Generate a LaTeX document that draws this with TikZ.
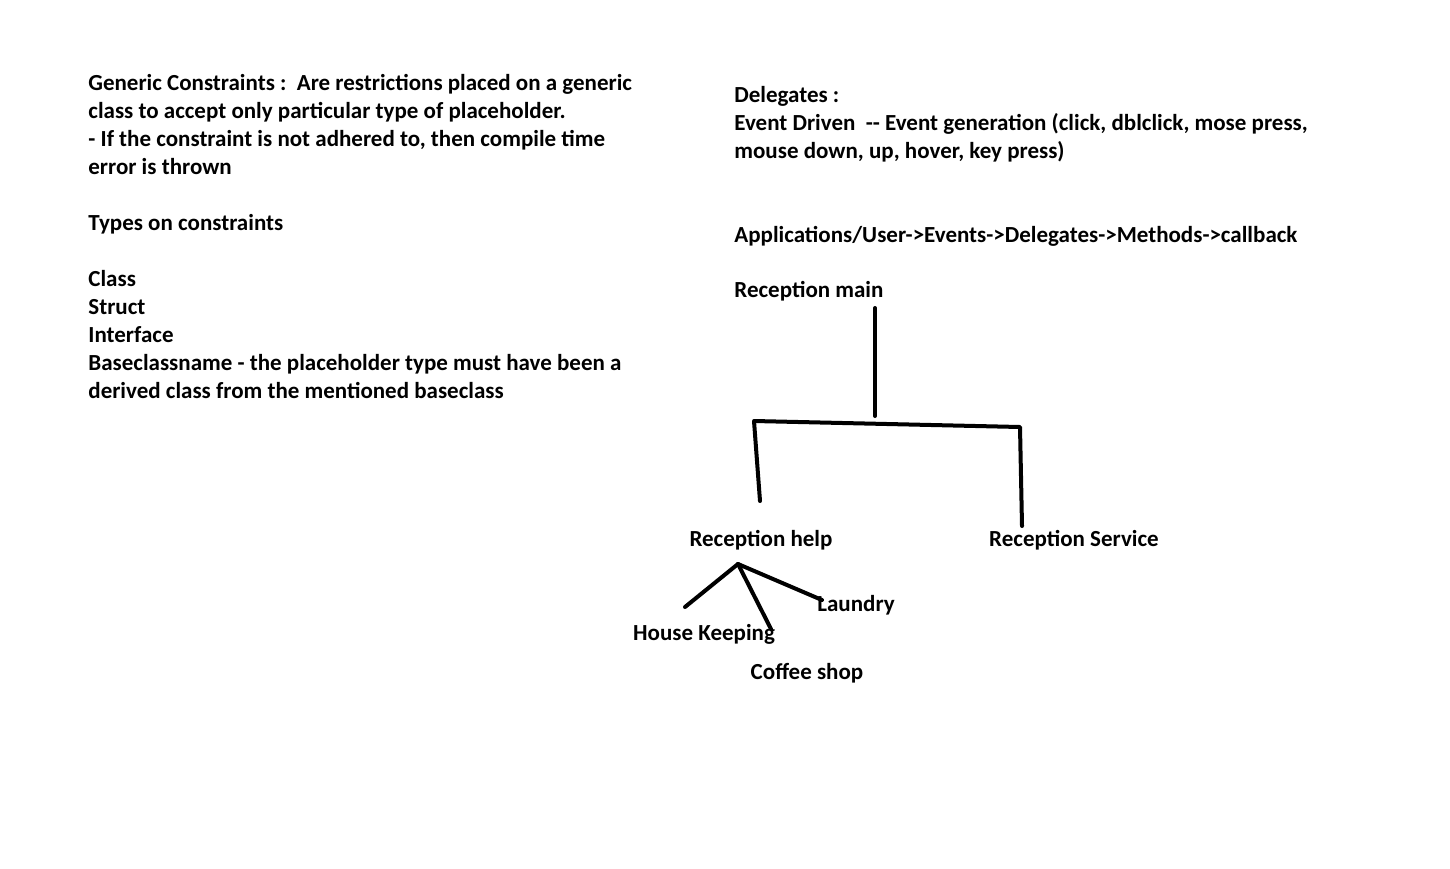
\documentclass[tikz,border=0pt]{standalone}
\usepackage{fontspec}
\setmainfont{Carlito}
\usetikzlibrary{positioning}

\begin{document}
\begin{tikzpicture}[
  x=0.5pt, y=-0.5pt,
  font=\fontsize{11.5}{14}\selectfont\bfseries,
  note/.style={anchor=base west,align=left,inner sep=0pt},
  leaf/.style={inner sep=0pt},
  branch/.style={line width=2pt,line cap=round,line join=round}
]
\useasboundingbox (0,0) rectangle (1450,868);

% --- Notes (left and right columns, placed by their last line) ---
\node[note] (generic) at (88,398) {Generic Constraints :\ \ Are restrictions placed on a generic\\
class to accept only particular type of placeholder.\\
- If the constraint is not adhered to, then compile time\\
error is thrown\\[14pt]
Types on constraints\\[14pt]
Class\\
Struct\\
Interface\\
Baseclassname - the placeholder type must have been a\\
derived class from the mentioned baseclass};

\node[note] (delegates) at (734,242) {Delegates :\\
Event Driven\ \ -{}- Event generation (click, dblclick, mose press,\\
mouse down, up, hover, key press)\\[28pt]
Applications/User->Events->Delegates->Methods->callback};

% --- Tree labels ---
\node[note] (recmain) at (734,297) {Reception main};
\node[leaf] (rechelp) at (761,540) {Reception help};
\node[leaf] (recserv) at (1074,540) {Reception Service};
\node[leaf] (housekeep) at (704,634) {House Keeping};
\node[leaf] (laundry) at (856,605) {Laundry};
\node[leaf] (coffee) at (807,673) {Coffee shop};

% --- Joints ---
\coordinate (maintop) at (875,308);
\coordinate (mainfoot) at (875,416);
\coordinate (barleft) at (754,421);
\coordinate (barright) at (1020,427);
\coordinate (helptop) at (760,501);
\coordinate (servtop) at (1022,526);
\coordinate (helpfoot) at (738,564);
\coordinate (housetip) at (685,607);
\coordinate (coffeetip) at (771,629);
\coordinate (laundrytip) at (822,600);

% --- Branches ---
\draw[branch] (maintop) -- (mainfoot);
\draw[branch] (helptop) -- (barleft) -- (barright) -- (servtop);
\draw[branch] (helpfoot) -- (housetip);
\draw[branch] (helpfoot) -- (coffeetip);
\draw[branch] (helpfoot) -- (laundrytip);
\end{tikzpicture}
\end{document}
